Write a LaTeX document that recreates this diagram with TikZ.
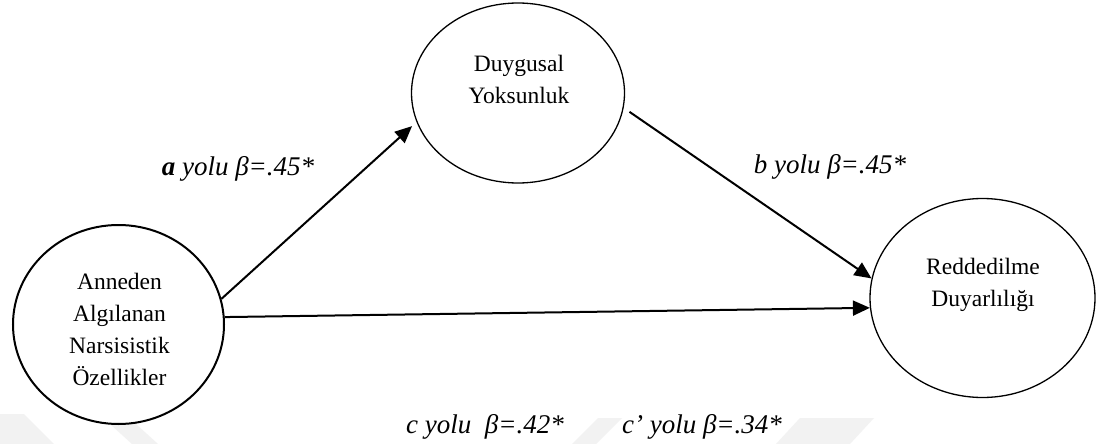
\documentclass[tikz,border=0pt]{standalone}
\usepackage{fontspec}
\setmainfont{Liberation Serif}
\usetikzlibrary{arrows.meta,shapes.geometric}
\begin{document}
\begin{tikzpicture}[x=1pt,y=-1pt,
  ell/.style={draw, ellipse, line width=1.3pt, inner sep=0pt},
  lbl/.style={font=\fontsize{23.5}{32}\selectfont, align=center, inner sep=0pt},
  coef/.style={font=\fontsize{27}{30}\selectfont\itshape, inner sep=0pt, anchor=base},
  arr/.style={line width=2pt, -{Triangle[length=17pt,width=15pt]}},
  wm/.style={fill=black!5, draw=none}]
\useasboundingbox[fill=white] (0,0) rectangle (1096,444);
% faint watermark stripes
\fill[wm] (0,414) -- (24,414) -- (54,444) -- (0,444) -- cycle;
\fill[wm] (110,424) -- (136,424) -- (158,444) -- (132,444) -- cycle;
\fill[wm] (598,418) -- (622,418) -- (596,444) -- (572,444) -- cycle;
\fill[wm] (800,418) -- (874,418) -- (850,444) -- (776,444) -- cycle;
% nodes
\node[ell, line width=2pt, minimum width=211pt, minimum height=199pt] (L) at (118.5,324.5) {};
\node[ell, minimum width=213pt, minimum height=180pt] (T) at (518,93) {};
\node[ell, minimum width=225pt, minimum height=199pt] (R) at (982.5,298) {};
\node[lbl] (Ltext) at (119.5,329) {Anneden\\Algılanan\\Narsisistik\\Özellikler};
\node[lbl] (Ttext) at (519,79) {Duygusal\\Yoksunluk};
\node[lbl] (Rtext) at (983,284.5) {Reddedilme\\Duyarlılığı};
% connectors
\draw[arr, shorten >=6pt] (L.14) -- (T.196);
\draw[arr, shorten <=7pt] (T.-8.6) -- (R.170);
\draw[arr] (L.4) -- (R.185);
% labels
\node[coef] (la) at (238,175) {\textbf{a} yolu β=.45*};
\node[coef] (lb) at (830,173) {b yolu β=.45*};
\node[coef] (lc) at (485,433) {c yolu\ \ β=.42*};
\node[coef] (lcp) at (702,433) {c’ yolu β=.34*};
\end{tikzpicture}
\end{document}
